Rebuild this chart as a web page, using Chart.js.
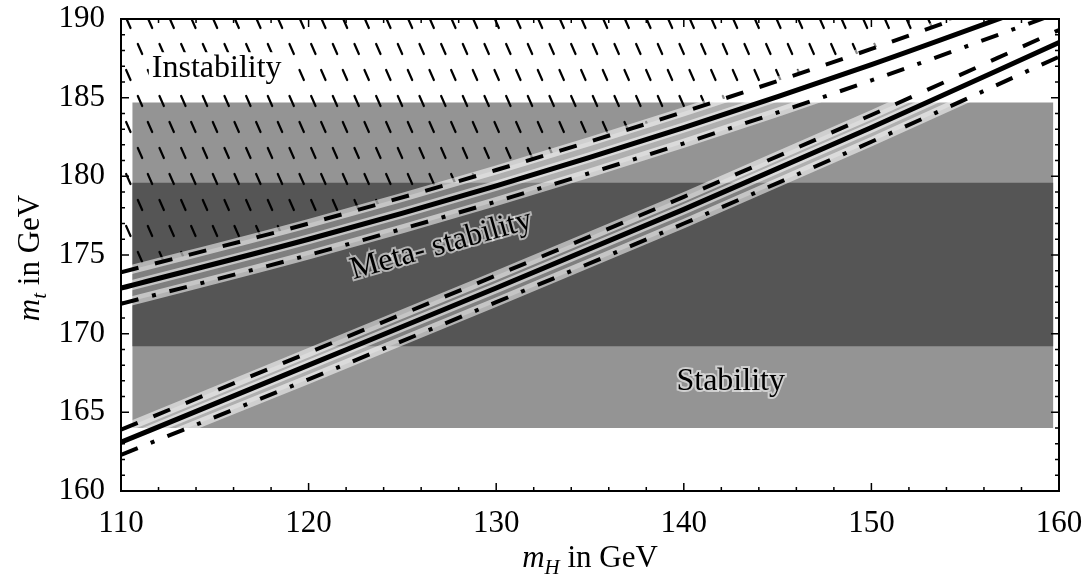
<!DOCTYPE html>
<html>
<head>
<meta charset="utf-8">
<script src="https://cdn.jsdelivr.net/npm/chart.js@4.4.1/dist/chart.umd.min.js"></script>
<style>
  body { margin: 0; background: #fff; }
  #wrap { width: 1089px; height: 575px; }
</style>
</head>
<body>
<div id="wrap"><canvas id="chart"></canvas></div>
<script>
// Higgs mass grid and the stability / meta-stability bounds on m_t
const mH = [110, 120, 130, 140, 150, 160];
const metaBound = [172.9, 176.0, 179.4, 183.1, 187.1, 191.4];
const metaBoundHigh = [173.9, 177.0, 180.4, 184.1, 188.1, 192.4];
const metaBoundLow = [171.9, 175.0, 178.4, 182.1, 186.1, 190.4];
const stabBound = [163.1, 168.0, 172.9, 177.9, 183.1, 188.5];
const stabBoundHigh = [163.9, 168.8, 173.7, 178.7, 183.9, 189.3];
const stabBoundLow = [162.3, 167.1, 172.0, 177.0, 182.2, 187.6];

// measured top mass bands (1 and 2 sigma)
const bandMH = [110.6, 159.7];
const mtOneSigma = [169.2, 179.6];
const mtTwoSigma = [164.0, 184.7];

const xTicks = [110, 120, 130, 140, 150, 160];
const yTicks = [160, 165, 170, 175, 180, 185, 190];
const xMinor = [112, 114, 116, 118, 122, 124, 126, 128, 132, 134, 136, 138, 142, 144, 146, 148, 152, 154, 156, 158];
const yMinor = [161, 162, 163, 164, 166, 167, 168, 169, 171, 172, 173, 174, 176, 177, 178, 179, 181, 182, 183, 184, 186, 187, 188, 189];

const serif = "'Liberation Serif', 'DejaVu Serif', serif";

function makeHatch() {
  const tile = document.createElement("canvas");
  tile.width = 65;
  tile.height = 52;
  const c = tile.getContext("2d");
  c.strokeStyle = "#000";
  c.lineWidth = 2.2;
  c.lineCap = "round";
  const marks = [];
  for (let k = 0; k < 3; k++) {
    marks.push([4 + k * 21.67, 8]);
    marks.push([15.67 + k * 21.67, 34]);
  }
  marks.forEach(([x, y]) => {
    c.beginPath();
    c.moveTo(x - 2.2, y - 5);
    c.lineTo(x + 2.2, y + 5);
    c.stroke();
  });
  const p = c.createPattern(tile, "repeat");
  p.setTransform(new DOMMatrix([1, 0, 0, 1, 16, 15]));
  return p;
}

const pts = (ys) => mH.map((x, i) => ({ x: x, y: ys[i] }));
const flat = (v) => bandMH.map((x) => ({ x: x, y: v }));

const lineBase = {
  pointRadius: 0,
  clip: 0,
  cubicInterpolationMode: "monotone",
  fill: false,
};

function halo(ys, width, extra) {
  return Object.assign({}, lineBase, {
    data: pts(ys),
    borderColor: "rgba(255,255,255,0.55)",
    borderWidth: width,
    order: 10,
  }, extra || {});
}

function curve(ys, width, dash) {
  return Object.assign({}, lineBase, {
    data: pts(ys),
    borderColor: "#000",
    borderWidth: width,
    borderDash: dash,
    order: 0,
  });
}

const datasets = [
  // 0,1: 2 sigma band
  { data: flat(mtTwoSigma[0]), borderWidth: 0, pointRadius: 0, clip: 0, order: 21 },
  { data: flat(mtTwoSigma[1]), borderWidth: 0, pointRadius: 0, clip: 0, order: 20, fill: 0, backgroundColor: "#949494" },
  // 2,3: 1 sigma band
  { data: flat(mtOneSigma[0]), borderWidth: 0, pointRadius: 0, clip: 0, order: 19 },
  { data: flat(mtOneSigma[1]), borderWidth: 0, pointRadius: 0, clip: 0, order: 18, fill: 2, backgroundColor: "#555555" },
  // 4..9: halos, the top one carries the instability hatching
  halo(metaBoundHigh, 9, { fill: "end", backgroundColor: makeHatch(), order: 12 }),
  halo(metaBound, 10),
  halo(metaBoundLow, 9, { fill: 4, backgroundColor: "rgba(255,255,255,0.25)", order: 11 }),
  halo(stabBoundHigh, 9),
  halo(stabBound, 10),
  halo(stabBoundLow, 9, { fill: 7, backgroundColor: "rgba(255,255,255,0.25)", order: 11 }),
  // bounds
  curve(metaBoundHigh, 4, [18, 17]),
  curve(metaBound, 5, []),
  curve(metaBoundLow, 4, [18, 14, 4, 14]),
  curve(stabBoundHigh, 4, [18, 17]),
  curve(stabBound, 5, []),
  curve(stabBoundLow, 4, [18, 14, 4, 14]),
];

function drawTitle(ctx, x, y, rot, sym, sub) {
  ctx.save();
  ctx.translate(x, y);
  ctx.rotate(rot);
  const big = "italic 31px " + serif;
  const small = "italic 21px " + serif;
  const plain = "31px " + serif;
  ctx.font = big;
  const w1 = ctx.measureText(sym).width;
  ctx.font = small;
  const w2 = ctx.measureText(sub).width;
  ctx.font = plain;
  const w3 = ctx.measureText(" in GeV").width;
  let cx = -(w1 + w2 + w3) / 2;
  ctx.fillStyle = "#000";
  ctx.textBaseline = "alphabetic";
  ctx.font = big;
  ctx.fillText(sym, cx, 0);
  cx += w1;
  ctx.font = small;
  ctx.fillText(sub, cx, 7);
  cx += w2;
  ctx.font = plain;
  ctx.fillText(" in GeV", cx, 0);
  ctx.restore();
}

const frame = {
  id: "frame",
  afterDatasetsDraw(chart) {
    const { ctx, chartArea: a, scales } = chart;
    const x = scales.x;
    const y = scales.y;
    ctx.save();

    // region labels
    const notes = chart.options.plugins.frame.notes;
    notes.forEach((n) => {
      ctx.save();
      ctx.translate(x.getPixelForValue(n.x), y.getPixelForValue(n.y));
      ctx.rotate((n.rot * Math.PI) / 180);
      ctx.font = "32px " + serif;
      ctx.textAlign = "center";
      ctx.textBaseline = "alphabetic";
      const w = ctx.measureText(n.text).width;
      if (n.box) {
        ctx.fillStyle = "#fff";
        ctx.fillRect(-w / 2 - 3, -25, w + 6, 33);
      }
      if (n.halo) {
        ctx.lineWidth = 4;
        ctx.strokeStyle = "rgba(255,255,255,0.55)";
        ctx.strokeText(n.text, 0, 0);
      }
      ctx.fillStyle = "#000";
      ctx.fillText(n.text, 0, 0);
      ctx.restore();
    });

    ctx.strokeStyle = "#000";
    ctx.lineWidth = 1.5;
    ctx.beginPath();
    const xt = (vals, len) => {
      vals.forEach((v) => {
        const px = x.getPixelForValue(v);
        ctx.moveTo(px, a.bottom);
        ctx.lineTo(px, a.bottom - len);
        ctx.moveTo(px, a.top);
        ctx.lineTo(px, a.top + len);
      });
    };
    const yt = (vals, len) => {
      vals.forEach((v) => {
        const py = y.getPixelForValue(v);
        ctx.moveTo(a.left, py);
        ctx.lineTo(a.left + len, py);
        ctx.moveTo(a.right, py);
        ctx.lineTo(a.right - len, py);
      });
    };
    xt(xTicks, 8);
    xt(xMinor, 4);
    yt(yTicks, 8);
    yt(yMinor, 4);
    ctx.stroke();
    ctx.lineWidth = 2;
    ctx.strokeRect(a.left, a.top, a.width, a.height);
    ctx.restore();
  },
  afterDraw(chart) {
    const ctx = chart.ctx;
    drawTitle(ctx, 590, 567, 0, "m", "H");
    drawTitle(ctx, 39, 258, -Math.PI / 2, "m", "t");
  },
};

new Chart(document.querySelector("#chart"), {
  type: "line",
  data: { datasets: datasets },
  plugins: [frame],
  options: {
    responsive: true,
    maintainAspectRatio: false,
    animation: false,
    layout: { padding: { left: 0, right: 30, top: 19, bottom: 0 } },
    plugins: {
      legend: { display: false },
      tooltip: { enabled: false },
      frame: {
        notes: [
          { text: "Instability", x: 115.1, y: 186.3, rot: 0, box: true },
          { text: "Meta- stability", x: 127.2, y: 175.1, rot: -16, halo: true },
          { text: "Stability", x: 142.5, y: 166.4, rot: 0, halo: true },
        ],
      },
    },
    scales: {
      x: {
        type: "linear",
        min: 110,
        max: 160,
        afterBuildTicks: (s) => { s.ticks = xTicks.map((v) => ({ value: v })); },
        afterFit: (s) => { s.height = 84; s.paddingLeft = 0; s.paddingRight = 0; },
        grid: { display: false, drawTicks: false },
        border: { display: false },
        ticks: { padding: 14, color: "#000", font: { family: serif, size: 31 } },
      },
      y: {
        type: "linear",
        min: 160,
        max: 190,
        afterBuildTicks: (s) => { s.ticks = yTicks.map((v) => ({ value: v })); },
        afterFit: (s) => { s.width = 121; s.paddingTop = 0; s.paddingBottom = 0; },
        grid: { display: false, drawTicks: false },
        border: { display: false },
        ticks: { padding: 16, color: "#000", font: { family: serif, size: 31 } },
      },
    },
  },
});
</script>
</body>
</html>
